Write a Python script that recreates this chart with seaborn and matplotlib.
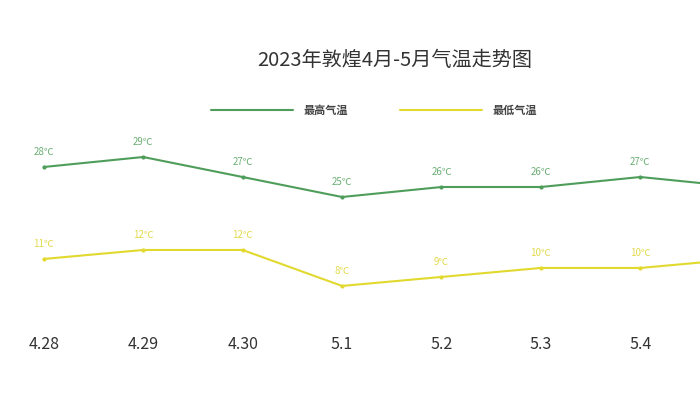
import pandas as pd
import seaborn as sns
import matplotlib
matplotlib.use("Agg")
import matplotlib.pyplot as plt

# data (last day is only partly visible at the right edge)
dates = ["4.28", "4.29", "4.30", "5.1", "5.2", "5.3", "5.4", "5.5"]
high_temp = [28, 29, 27, 25, 26, 26, 27, 26]
low_temp = [11, 12, 12, 8, 9, 10, 10, 11]
visible_ticks = dates[:7]

title = "2023年敦煌4月-5月气温走势图"
high_name = "最高气温"
low_name = "最低气温"

green = "#4f9d5a"
yellow = "#e2d92e"

sns.set_theme(style="white")
plt.rcParams["font.family"] = ["Noto Sans CJK SC", "DejaVu Sans"]

df = pd.DataFrame({"date": dates, "high": high_temp, "low": low_temp})

fig = plt.figure(figsize=(7, 3.98), dpi=100)
ax = fig.add_axes([0, 68 / 398, 1, 330 / 398])
ax2 = ax.twinx()

sns.lineplot(data=df, x="date", y="high", ax=ax, color=green, linewidth=1.5,
             marker="o", markersize=3, markeredgewidth=0, sort=False,
             label=high_name, legend=False)
sns.lineplot(data=df, x="date", y="low", ax=ax2, color=yellow, linewidth=1.5,
             marker="o", markersize=3, markeredgewidth=0, sort=False,
             label=low_name, legend=False)

# separate vertical scales for the two series, as in the original graphic
ax.set_ylim(11.7, 44.7)
ax2.set_ylim(3.1, 39.8)
ax.set_xlim(-0.44, 6.6)

for i, v in enumerate(high_temp):
    ax.annotate(f"{v}℃", (i, v), xytext=(0, 7), textcoords="offset points",
                ha="center", va="bottom", fontsize=7, color="#6aae73")
for i, v in enumerate(low_temp):
    ax2.annotate(f"{v}℃", (i, v), xytext=(0, 7), textcoords="offset points",
                 ha="center", va="bottom", fontsize=7, color="#e2da4c")

ax.set_xticks(range(len(visible_ticks)))
ax.set_xticklabels(visible_ticks, fontsize=11.5, color="#333333",
                   fontweight="light")
ax.tick_params(axis="x", length=0, pad=4)
ax.set_yticks([])
ax2.set_yticks([])
ax.set_xlabel("")
ax.set_ylabel("")
ax2.set_ylabel("")
for a in (ax, ax2):
    for s in a.spines.values():
        s.set_visible(False)
    a.patch.set_alpha(0)

fig.text(395 / 700, 1 - 60 / 398, title, ha="center", va="center",
         fontsize=14.5, color="#333333", fontweight="light")

handles = ax.get_lines()[:1] + ax2.get_lines()[:1]
fig.legend(handles, [high_name, low_name], loc="center", ncol=2,
           bbox_to_anchor=(374 / 700, 1 - 110 / 398), frameon=False,
           handlelength=7.4, handletextpad=1.0, columnspacing=4.6,
           prop={"weight": "bold", "size": 8})
for t in fig.legends[0].get_texts():
    t.set_color("#444444")
for h in fig.legends[0].legend_handles:
    h.set_marker("")

fig.savefig("out.png", dpi=100)
plt.close(fig)
